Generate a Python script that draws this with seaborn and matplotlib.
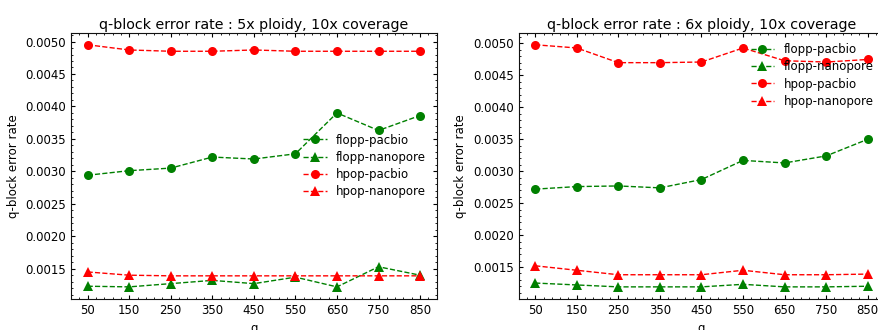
import pandas as pd
import matplotlib.pyplot as plt
import seaborn as sns

q = [50, 150, 250, 350, 450, 550, 650, 750, 850]

# 5x ploidy
flopp_pacbio_5 = [0.00294, 0.00301, 0.00305, 0.00322, 0.00319, 0.00327, 0.00390, 0.00363, 0.00386]
flopp_nanopore_5 = [0.00123, 0.00122, 0.00127, 0.00132, 0.00127, 0.00137, 0.00122, 0.00153, 0.00140]
hpop_pacbio_5 = [0.00495, 0.00487, 0.00485, 0.00485, 0.00487, 0.00485, 0.00485, 0.00485, 0.00485]
hpop_nanopore_5 = [0.00145, 0.00140, 0.00139, 0.00139, 0.00139, 0.00139, 0.00139, 0.00139, 0.00139]

# 6x ploidy
flopp_pacbio_6 = [0.00272, 0.00276, 0.00277, 0.00274, 0.00287, 0.00317, 0.00313, 0.00324, 0.00350]
flopp_nanopore_6 = [0.00125, 0.00122, 0.00119, 0.00119, 0.00119, 0.00123, 0.00119, 0.00119, 0.00120]
hpop_pacbio_6 = [0.00498, 0.00493, 0.00470, 0.00470, 0.00471, 0.00493, 0.00473, 0.00471, 0.00475]
hpop_nanopore_6 = [0.00152, 0.00145, 0.00138, 0.00138, 0.00138, 0.00145, 0.00138, 0.00138, 0.00139]

series_names = ['flopp-pacbio', 'flopp-nanopore', 'hpop-pacbio', 'hpop-nanopore']
colors = ['green', 'green', 'red', 'red']
markers = ['o', '^', 'o', '^']

sns.set_style('ticks')
plt.rcParams.update({
    'font.family': ['DejaVu Sans'],
    'font.size': 8.5,
    'text.color': 'black',
    'axes.labelcolor': 'black',
    'xtick.color': 'black',
    'ytick.color': 'black',
    'xtick.direction': 'in',
    'ytick.direction': 'in',
    'xtick.top': True,
    'ytick.right': True,
    'xtick.minor.visible': True,
    'ytick.minor.visible': True,
    'xtick.major.size': 3,
    'ytick.major.size': 3,
    'xtick.minor.size': 1.5,
    'ytick.minor.size': 1.5,
    'axes.edgecolor': '#111111',
})

fig = plt.figure(figsize=(8.79, 3.3), dpi=100)
ax1 = fig.add_axes([0.0808, 0.094, 0.416, 0.807])
ax2 = fig.add_axes([0.590, 0.094, 0.416, 0.807])

panels = [
    (ax1, '5x', [flopp_pacbio_5, flopp_nanopore_5, hpop_pacbio_5, hpop_nanopore_5], 'center right'),
    (ax2, '6x', [flopp_pacbio_6, flopp_nanopore_6, hpop_pacbio_6, hpop_nanopore_6], 'upper right'),
]

for ax, ploidy, values, loc in panels:
    for name, vals, c, m in zip(series_names, values, colors, markers):
        df = pd.DataFrame({'q': q, 'rate': vals})
        sns.lineplot(data=df, x='q', y='rate', ax=ax, color=c, marker=m,
                     markersize=6.5, markeredgewidth=0, linestyle='--',
                     linewidth=1, label=name)
    ax.set_xticks(q)
    ax.set_title(f'q-block error rate : {ploidy} ploidy, 10x coverage', fontsize=10.3, pad=3)
    ax.set_xlabel('q')
    ax.set_ylabel('q-block error rate')
    ax.yaxis.set_major_formatter(plt.FormatStrFormatter('%.4f'))
    ax.legend(loc=loc, frameon=False, labelspacing=0.35)

plt.savefig('out.png', dpi=100)
